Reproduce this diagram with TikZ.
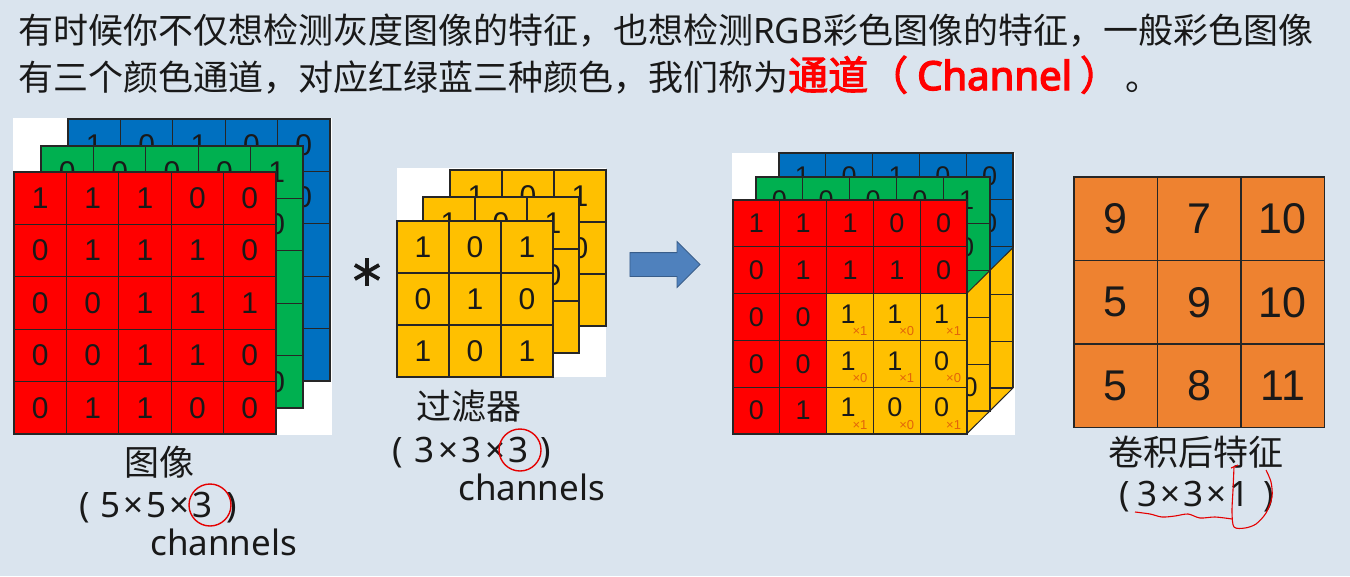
\documentclass[tikz,border=0pt]{standalone}
\usepackage{fontspec}
\setmainfont{Noto Sans CJK SC}[AutoFakeBold=2.5]
\newfontfamily\latin{Noto Sans}[AutoFakeBold=2.5]
\newfontfamily\latinb{Noto Sans}[FakeBold=3.5]
\newfontfamily\arial{Liberation Sans}
\usetikzlibrary{calc,shapes.arrows}
\definecolor{bgc}{RGB}{218,228,238}
\definecolor{cred}{RGB}{255,0,0}
\definecolor{cgreen}{RGB}{0,176,80}
\definecolor{cblue}{RGB}{0,112,192}
\definecolor{cyel}{RGB}{255,192,0}
\definecolor{corange}{RGB}{238,130,48}
\definecolor{carrow}{RGB}{79,129,189}
\definecolor{carrowb}{RGB}{56,93,138}
\definecolor{cmult}{RGB}{226,100,10}
\definecolor{ctext}{RGB}{25,25,25}
\newcommand\layer[7]{%
  \foreach \v [count=\k from 0] in {#7} {%
    \pgfmathtruncatemacro\row{div(\k,#4)}%
    \pgfmathtruncatemacro\col{mod(\k,#4)}%
    \node[cell,#6,minimum width=#5pt,minimum height=#5pt] (#1-\row-\col) at ({#2+\col*#5},{#3+\row*#5}) {\v};
  }%
}
\newcommand\tx{\kern3pt×\kern3pt}
\begin{document}
\begin{tikzpicture}[x=1pt,y=-1pt,
  cell/.style={draw=black!85, line width=1.1pt, anchor=north west, inner sep=0pt, outer sep=0pt,
    text=ctext, font=\arial\fontsize{30}{30}\selectfont},
  small/.style={font=\arial\fontsize{27}{27}\selectfont},
  mult/.style={inner sep=0pt, text=cmult, font=\arial\fontsize{13}{13}\selectfont},
  ydig/.style={inner sep=0pt, text=ctext, font=\arial\fontsize{27}{27}\selectfont},
  lab/.style={inner sep=0pt, anchor=base west, text=ctext, font=\fontsize{35}{42}\selectfont},
  redmark/.style={draw=red!90!black, line width=1.4pt},
  whitebg/.style={fill=white, draw=none}]
\fill[bgc] (0,0) rectangle (1350,576);
\useasboundingbox (0,0) rectangle (1350,576);

% heading
\node[lab] (h1) at (18,43) {有时候你不仅想检测灰度图像的特征，也想检测{\latin RGB}彩色图像的特征，一般彩色图像};
\node[lab] (h2) at (18,90) {有三个颜色通道，对应红绿蓝三种颜色，我们称为{\color{cred}\fontsize{40}{42}\selectfont\bfseries 通道（\kern9pt{\latinb Channel}\kern8pt）}\kern6pt 。};

% ---------- left image stack ----------
\fill[whitebg] (13,118) rectangle (332,435);
\layer{B}{68}{119}{5}{52.4}{fill=cblue}{1,0,1,0,0,{},{},{},{},0,{},{},{},{},{},{},{},{},{},{},{},{},{},{},{}}
\layer{G}{41}{146}{5}{52.4}{fill=cgreen}{0,0,0,0,1,{},{},{},{},0,{},{},{},{},{},{},{},{},{},{},{},{},{},{},0}
\layer{R}{14}{172}{5}{52.4}{fill=cred}{1,1,1,0,0,0,1,1,1,0,0,0,1,1,1,0,0,1,1,0,0,1,1,0,0}

% asterisk
\node[inner sep=0pt, minimum size=2pt] (star) at (367,272) {};
\foreach \a in {90,30,150}
  \draw[line width=3.8pt, ctext] ($(star)+(\a:14)$) -- ($(star)+(\a+180:14)$);

% ---------- filter stack ----------
\fill[whitebg] (397,168) rectangle (606,377);
\layer{F3}{450}{170}{3}{52}{fill=cyel}{1,0,1,{},{},0,{},{},{}}
\layer{F2}{423}{197}{3}{52}{fill=cyel}{1,0,1,{},{},0,{},{},{}}
\layer{F1}{397}{221}{3}{52}{fill=cyel}{1,0,1,0,1,0,1,0,1}

% ---------- arrow ----------
\node[single arrow, fill=carrow, draw=carrowb, line width=0.8pt, minimum height=70pt,
  text height=11.5pt, text depth=11.5pt, text width=0pt,
  single arrow head extend=11pt, single arrow tip angle=90, inner sep=0pt] (arr) at (659,264.5) {};

% ---------- middle stack ----------
\fill[whitebg] (732,153) rectangle (1015,435);
\layer{MB}{779}{153}{5}{46.8}{fill=cblue,small}{1,0,1,0,0,{},{},{},{},0,{},{},{},{},{},{},{},{},{},{},{},{},{},{},{}}
\layer{MG}{756}{177}{5}{46.8}{fill=cgreen,small}{0,0,0,0,1,{},{},{},{},0,{},{},{},{},{},{},{},{},{},{},{},{},{},{},{}}
\begin{scope}
  \clip (966.6,293.6) -- (1013,247.6) -- (1013,388) -- (966.6,434) -- cycle;
  \fill[cyel] (900,200) rectangle (1020,440);
  \layer{MF3}{872.6}{247.6}{3}{46.8}{fill=cyel,small}{{},{},{},{},{},{},{},{},{}}
  \layer{MF2}{849.6}{270.6}{3}{46.8}{fill=cyel,small}{{},{},{},{},{},{},{},{},{}}
  \node[ydig] (mf2d) at (970,387) {0};
\end{scope}
\coordinate (p1) at (966.6,293.6);
\coordinate (p2) at (1013,247.6);
\coordinate (p3) at (966.6,434);
\coordinate (p4) at (1013,388);
\draw[black!85, line width=1pt] (p1) -- (p2);
\draw[black!85, line width=1pt] (p3) -- (p4);
\layer{MR}{733}{200}{5}{46.8}{fill=cred,small}{1,1,1,0,0,0,1,1,1,0,0,0,{},{},{},0,0,{},{},{},0,1,{},{},{}}
\layer{Y}{826.6}{293.6}{3}{46.8}{fill=cyel,small}{{},{},{},{},{},{},{},{},{}}
\foreach \d/\m [count=\k from 0] in {1/1,1/0,1/1,1/0,1/1,0/0,1/1,0/0,0/1} {
  \pgfmathtruncatemacro\row{div(\k,3)}
  \pgfmathtruncatemacro\col{mod(\k,3)}
  \node[ydig] (yd-\row-\col) at ($(Y-\row-\col.center)+(-2,-3)$) {\d};
  \node[mult] (m-\row-\col) at ($(Y-\row-\col.center)+(10,14.5)$) {×\m};
}

% ---------- output ----------
\layer{O}{1074}{177}{3}{83.5}{fill=corange,font=\arial\fontsize{43}{43}\selectfont}{9,7,10,5,9,10,5,8,11}

% ---------- labels ----------
\node[lab] (l1a) at (124,475) {图像};
\node[lab] (l1b) at (79,517) {\latin(\kern11pt 5\tx 5\tx 3\kern14pt)};
\node[lab] (l1c) at (150,555) {\latin channels};
\draw[redmark] (210,505) circle[radius=21pt];

\node[lab] (l2a) at (416,419) {过滤器};
\node[lab] (l2b) at (392,462) {\latin(\kern12pt 3\kern3.5pt×\kern3.5pt3\kern3.5pt×\kern3.5pt3\kern12pt)};
\node[lab] (l2c) at (458,500) {\latin channels};
\draw[redmark] (520,450) circle[radius=21pt];

\node[lab] (l3a) at (1108,465) {卷积后特征};
\node[lab] (l3b) at (1119,506) {\latin(\kern8pt 3\tx 3\tx 1\kern14pt)};
\draw[redmark, line width=1.1pt] plot[smooth] coordinates {(1135,512) (1150,514) (1162,517) (1175,516) (1188,514) (1200,518) (1215,517) (1232,519)};
\draw[redmark, line width=1.1pt] (1231,468) -- (1238,465);
\draw[redmark, line width=1.1pt] plot[smooth] coordinates {(1234,467) (1233,490) (1232,512) (1234,527) (1245,528) (1256,524) (1266,513) (1272,497) (1271,482) (1266,470)};
\end{tikzpicture}
\end{document}
